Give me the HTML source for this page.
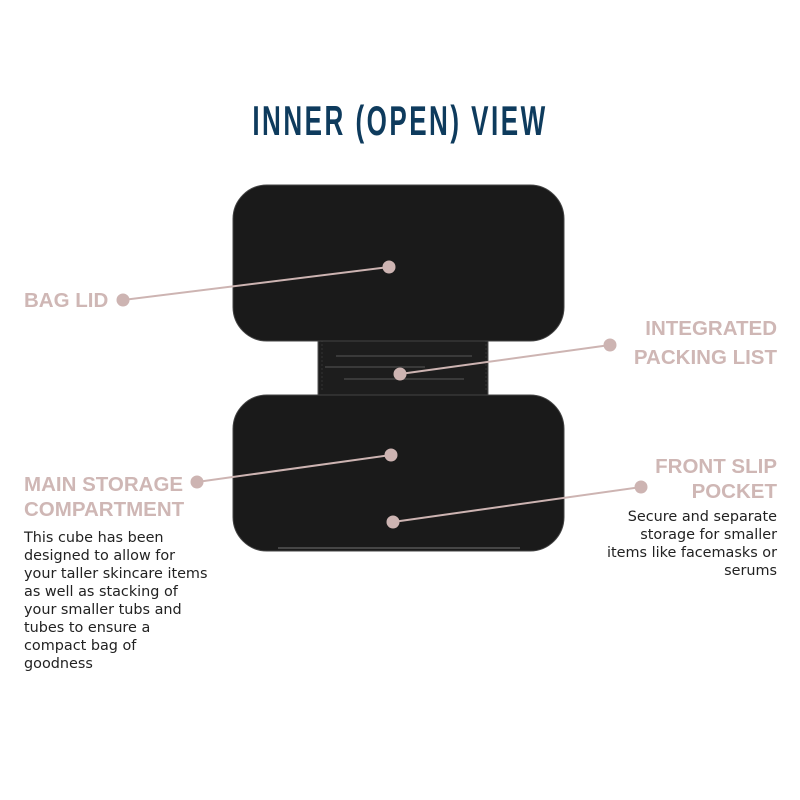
<!DOCTYPE html>
<html><head><meta charset="utf-8"><style>
html,body{margin:0;padding:0;background:#fff;}
svg{display:block}
.lab{font-family:"Liberation Sans",sans-serif;font-weight:bold;font-size:20.5px;fill:#cfb7b5}
.bd{font-family:"DejaVu Sans","Liberation Sans",sans-serif;font-size:14.4px;fill:#222}
</style></head><body>
<svg width="800" height="800" viewBox="0 0 800 800" xmlns="http://www.w3.org/2000/svg">
<text x="400" y="135" text-anchor="middle" font-family="Liberation Sans, sans-serif" font-weight="bold" font-size="42" fill="#0e3b5d" letter-spacing="4" transform="translate(400 0) scale(0.62 1) translate(-400 0)">INNER (OPEN) VIEW</text>

<rect x="318" y="338" width="170" height="57" fill="#1d1d1d" stroke="#555" stroke-width="1"/>
<line x1="322" y1="340" x2="322" y2="392" stroke="#333" stroke-dasharray="2 2"/>
<line x1="486" y1="340" x2="486" y2="392" stroke="#333" stroke-dasharray="2 2"/>
<g fill="#3a3a3a"><rect x="336" y="355" width="136" height="2"/><rect x="325" y="366" width="100" height="2"/><rect x="344" y="378" width="120" height="2"/></g>

<rect x="233" y="185" width="331" height="156" rx="34" fill="#1a1a1a" stroke="#444" stroke-width="1"/>
<rect x="233" y="395" width="331" height="156" rx="34" fill="#1a1a1a" stroke="#444" stroke-width="1"/>
<line x1="278" y1="548" x2="520" y2="548" stroke="#555" stroke-width="1.5"/>

<g stroke="#cdb4b2" stroke-width="2" fill="#cdb4b2">
<line x1="123" y1="300" x2="389" y2="267"/><circle cx="123" cy="300" r="5.5"/><circle cx="389" cy="267" r="5.5"/>
<line x1="610" y1="345" x2="400" y2="374"/><circle cx="610" cy="345" r="5.5"/><circle cx="400" cy="374" r="5.5"/>
<line x1="197" y1="482" x2="391" y2="455"/><circle cx="197" cy="482" r="5.5"/><circle cx="391" cy="455" r="5.5"/>
<line x1="641" y1="487" x2="393" y2="522"/><circle cx="641" cy="487" r="5.5"/><circle cx="393" cy="522" r="5.5"/>
</g>

<text class="lab" x="24" y="307">BAG LID</text>
<text class="lab" x="24" y="491">MAIN STORAGE</text>
<text class="lab" x="24" y="516">COMPARTMENT</text>
<text class="lab" x="777" y="335" text-anchor="end">INTEGRATED</text>
<text class="lab" x="777" y="364" text-anchor="end">PACKING LIST</text>
<text class="lab" x="777" y="473" text-anchor="end">FRONT SLIP</text>
<text class="lab" x="777" y="498" text-anchor="end">POCKET</text>

<g class="bd">
<text x="24" y="542">This cube has been</text>
<text x="24" y="560">designed to allow for</text>
<text x="24" y="578">your taller skincare items</text>
<text x="24" y="596">as well as stacking of</text>
<text x="24" y="614">your smaller tubs and</text>
<text x="24" y="632">tubes to ensure a</text>
<text x="24" y="650">compact bag of</text>
<text x="24" y="668">goodness</text>
</g>
<g class="bd" text-anchor="end">
<text x="777" y="521">Secure and separate</text>
<text x="777" y="539">storage for smaller</text>
<text x="777" y="557">items like facemasks or</text>
<text x="777" y="575">serums</text>
</g>
</svg>
</body></html>
